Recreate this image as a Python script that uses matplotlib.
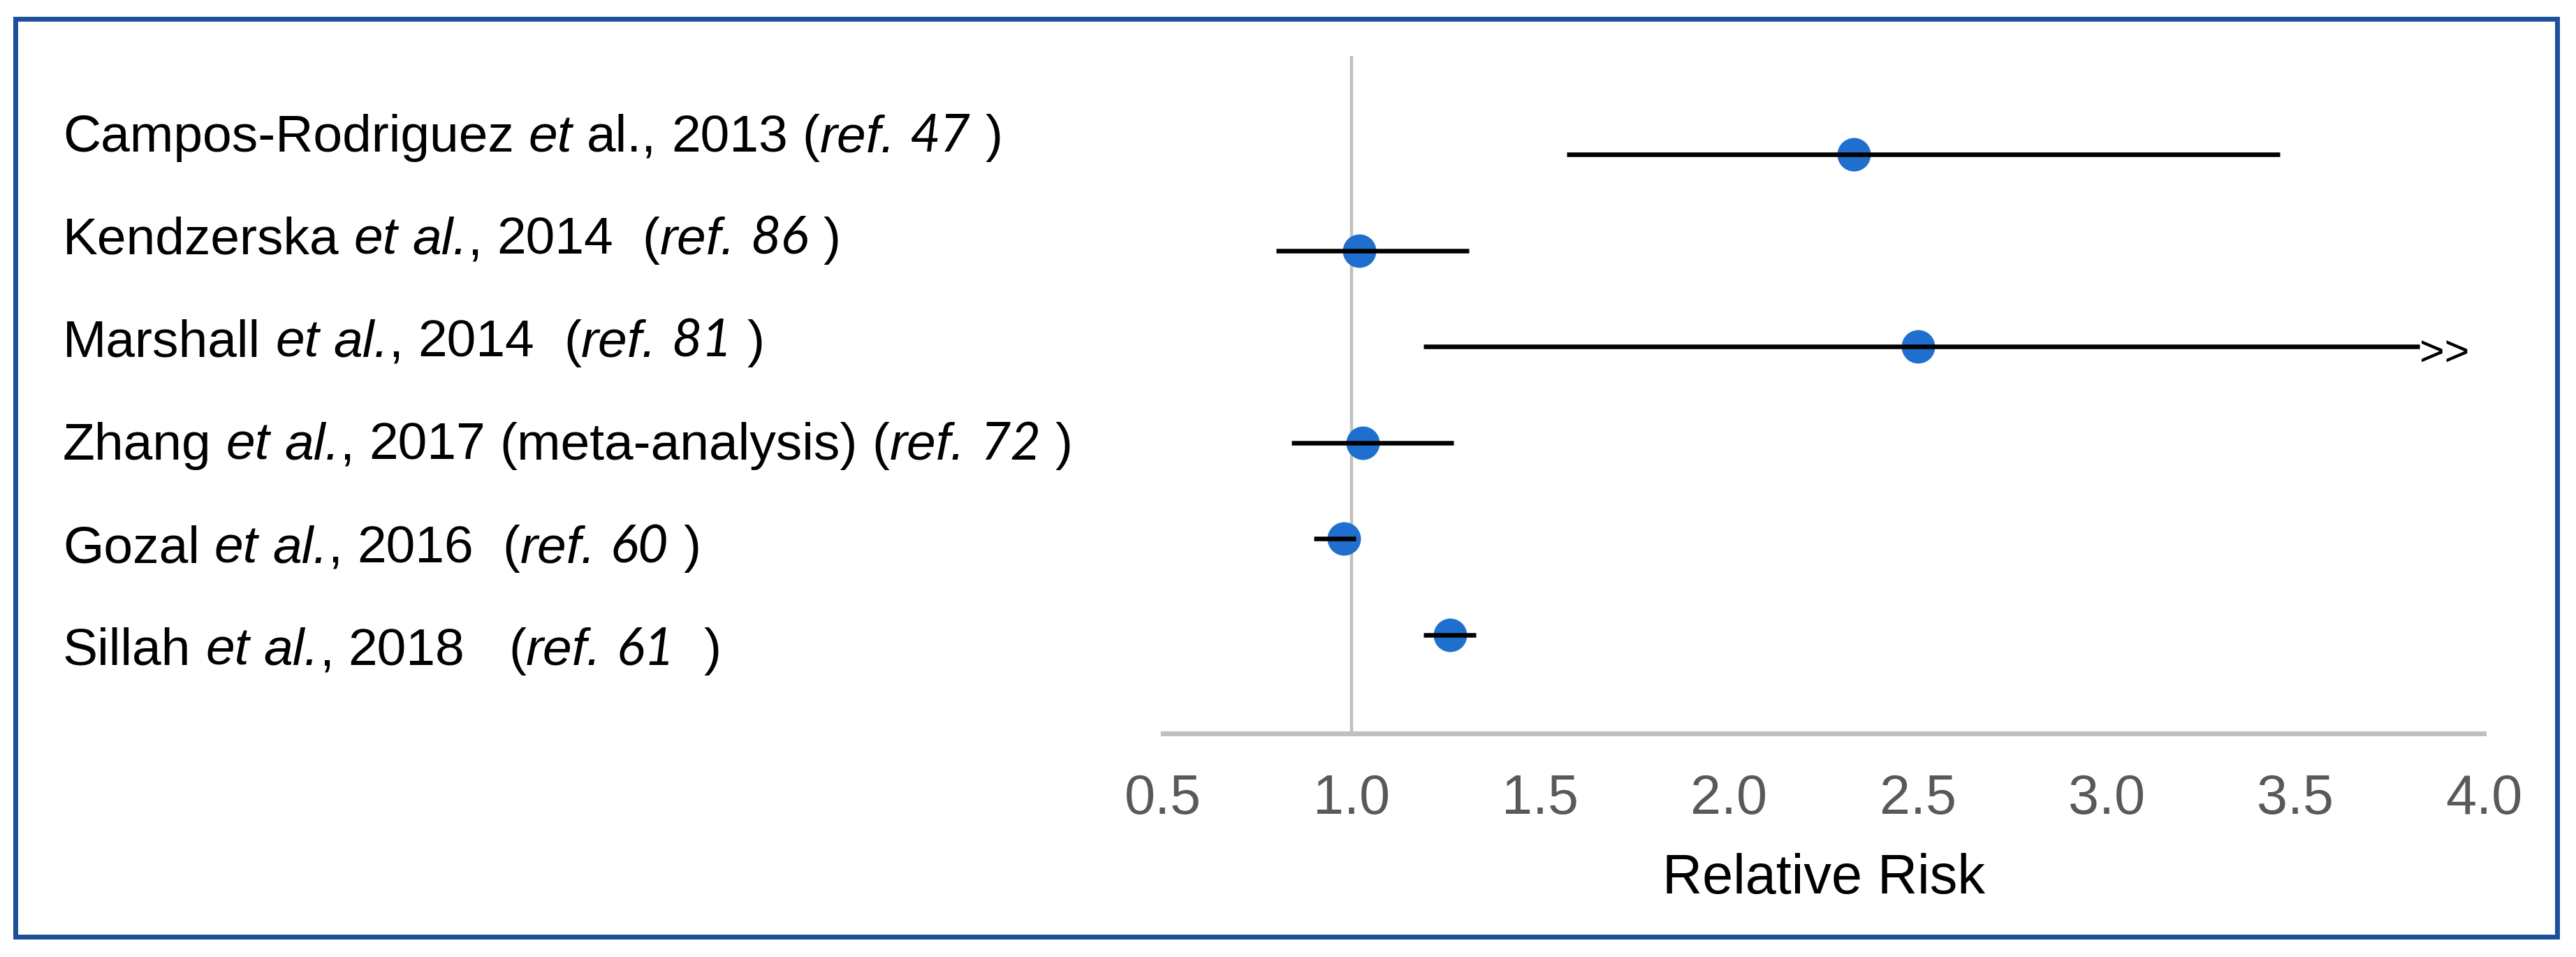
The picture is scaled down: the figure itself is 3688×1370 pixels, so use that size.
import re
import matplotlib
matplotlib.use("Agg")
import matplotlib.pyplot as plt
from matplotlib.patches import Rectangle

W, H, DPI = 3688, 1370, 100

# study labels: *...* = italic, #...# = reference number font
studies = [
    "Campos-Rodriguez *et* al., 2013 (*ref.* #47# )",
    "Kendzerska *et al.*, 2014  (*ref.* #86# )",
    "Marshall *et al.*, 2014  (*ref.* #81# )",
    "Zhang *et al.*, 2017 (meta-analysis) (*ref.* #72# )",
    "Gozal *et al.*, 2016  (*ref.* #60# )",
    "Sillah *et al.*, 2018   (*ref.* #61#  )",
]
rr = [2.33, 1.02, 2.50, 1.03, 0.98, 1.26]
ci_low = [1.57, 0.80, 1.19, 0.84, 0.90, 1.19]
ci_high = [3.46, 1.31, 3.83, 1.27, 1.01, 1.33]
truncated = [False, False, True, False, False, False]

xticks = [0.5, 1.0, 1.5, 2.0, 2.5, 3.0, 3.5, 4.0]
xtick_labels = ["0.5", "1.0", "1.5", "2.0", "2.5", "3.0", "3.5", "4.0"]
x_title = "Relative Risk"

LABEL_SIZE = 54
fonts = {
    "n": dict(family="Liberation Sans", fontsize=LABEL_SIZE),
    "i": dict(family="Liberation Sans", style="italic", fontsize=LABEL_SIZE),
    "num": dict(family="Lato", style="italic", fontsize=LABEL_SIZE),
}
space_px = 0.278 * LABEL_SIZE * DPI / 72


def draw_label(fig, renderer, text, x_px, base_px):
    style = "n"
    for piece in re.split(r"([*#])", text):
        if piece == "*":
            style = "n" if style == "i" else "i"
            continue
        if piece == "#":
            style = "n" if style == "num" else "num"
            continue
        for tok in re.split(r"( +)", piece):
            if not tok:
                continue
            if tok.isspace():
                x_px += len(tok) * space_px
                continue
            t = fig.text(x_px / W, 1 - base_px / H, tok, va="baseline", ha="left",
                         color="black", **fonts[style])
            x_px = t.get_window_extent(renderer).x1


fig = plt.figure(figsize=(W / DPI, H / DPI), dpi=DPI)
fig.patch.set_facecolor("white")

# plot area (pixel layout of the reference)
left, right, top, bottom = 1665, 3556, 80, 1050
ax = fig.add_axes([left / W, 1 - bottom / H, (right - left) / W, (bottom - top) / H])

rows = list(range(len(studies)))
ax.axvline(1.0, color="#c0c0c0", lw=3.2, zorder=1)
ax.plot(rr, rows, "o", color="#1f6fce", markersize=34.5, markeredgewidth=0, zorder=2)
ax.hlines(rows, ci_low, ci_high, color="black", lw=4.7, zorder=3)
for y, (hi, cut) in enumerate(zip(ci_high, truncated)):
    if cut:
        ax.annotate(">>", (hi, y), xytext=(0, -20), textcoords="offset points",
                    ha="left", va="baseline", fontsize=44, family="Liberation Sans")

ax.set_xlim(0.5, 4.0)
ax.set_ylim(5 + 1.025, -1.025)
ax.set_yticks([])
ax.set_xticks(xticks)
ax.set_xticklabels(xtick_labels, family="Liberation Sans", fontsize=57, color="#595959")
ax.tick_params(axis="x", length=0, pad=41)
ax.set_xlabel(x_title, family="Liberation Sans", fontsize=57, color="black", labelpad=28)
for s in ["top", "right", "left"]:
    ax.spines[s].set_visible(False)
ax.spines["bottom"].set_color("#bfbfbf")
ax.spines["bottom"].set_linewidth(5)
ax.patch.set_alpha(0)

# row labels on the left
renderer = fig.canvas.get_renderer()
for i, lab in enumerate(studies):
    draw_label(fig, renderer, lab, 90, 217 + i * 147)

# blue frame
fig.patches.append(Rectangle((22 / W, 1 - 1341 / H), (3661 - 22) / W, (1341 - 27) / H,
                             transform=fig.transFigure, fill=False,
                             edgecolor="#1d4f9a", lw=5))

fig.savefig("out.png", dpi=DPI)
